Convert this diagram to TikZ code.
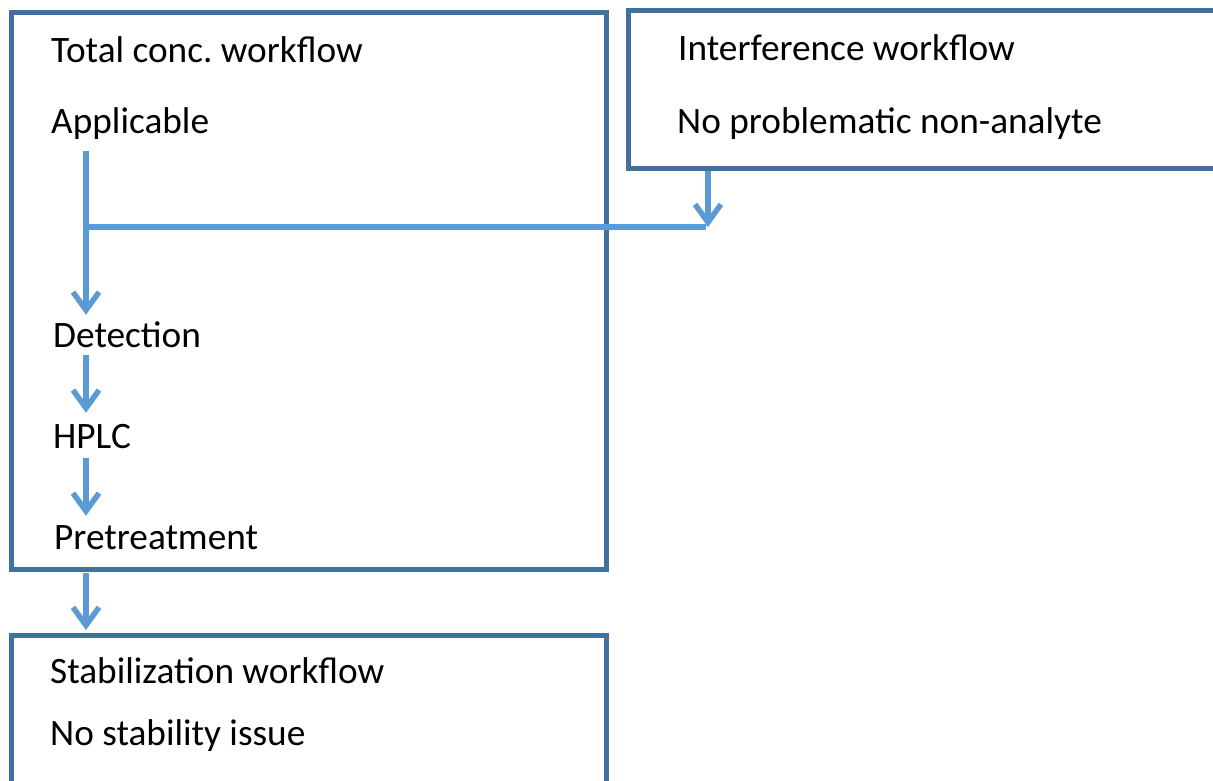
\documentclass[tikz,border=0pt]{standalone}
\usepackage{fontspec}
\setmainfont{Carlito}
\usetikzlibrary{arrows.meta}
\definecolor{boxblue}{HTML}{41719C}
\definecolor{flowblue}{HTML}{5B9BD5}

\begin{document}
\begin{tikzpicture}[x=1pt,y=-1pt,
    wfbox/.style={draw=boxblue,line width=5pt,anchor=north west,inner sep=0pt},
    lbl/.style={anchor=base west,inner sep=0pt,text height=26pt,text depth=6pt,
      font=\fontsize{37.3}{44}\selectfont},
    link/.style={draw=flowblue,line width=5.5pt},
    flow/.style={link,-{Straight Barb[length=18pt,width=26pt]}}]
    \clip (0,0) rectangle (1213,780);
    % workflow boxes
    \node[wfbox,minimum width=594.5pt,minimum height=557pt] (total) at (9,10) {};
    \node[wfbox,minimum width=620pt,minimum height=158pt] (interf) at (626,8) {};
    \node[wfbox,minimum width=594.5pt,minimum height=200pt] (stab) at (9,633) {};
    % texts
    \node[lbl] (ttitle) at (51,62) {Total conc.\ workflow};
    \node[lbl] (applic) at (51,133) {Applicable};
    \node[lbl] (detect) at (53,347) {Detection};
    \node[lbl] (hplc) at (53,448) {HPLC};
    \node[lbl] (pretr) at (54,549) {Pretreatment};
    \node[lbl] (ititle) at (678,60) {Interference workflow};
    \node[lbl] (nonan) at (677,133) {No problematic non-analyte};
    \node[lbl] (stitle) at (50,683) {Stabilization workflow};
    \node[lbl] (nostab) at (50,745) {No stability issue};
    % connectors (y axis points down, so a positive yshift moves up)
    \coordinate (col) at (86,0);
    \coordinate (meet) at (708,227);
    \draw[flow] (applic.south -| col) ++(0,12) -- ([yshift=6pt]detect.north -| col);
    \draw[flow] ([yshift=-2pt]detect.south -| col) -- ([yshift=9pt]hplc.north -| col);
    \draw[flow] ([yshift=-4pt]hplc.south -| col) -- ([yshift=7pt]pretr.north -| col);
    \draw[flow] ([yshift=-1pt]total.south -| col) -- ([yshift=3pt]stab.north -| col);
    \draw[flow] (interf.south -| meet) -- (meet);
    \draw[link] ([xshift=-2pt]meet) -- (meet -| col);
\end{tikzpicture}
\end{document}
